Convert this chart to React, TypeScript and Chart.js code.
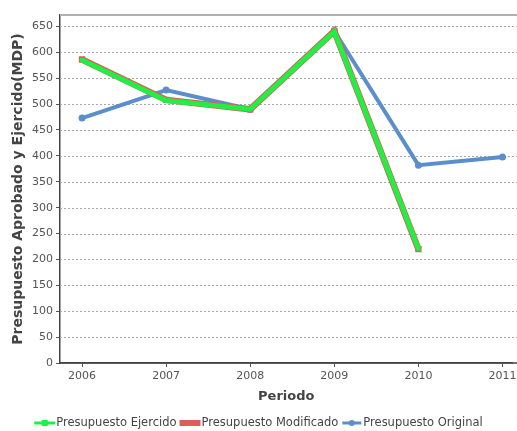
import React, { useEffect, useRef } from "react";
import { Chart, registerables } from "chart.js";
Chart.register(...registerables);

const years = [2006, 2007, 2008, 2009, 2010, 2011];
const ejercido = [585, 507, 490, 640, 221];
const modificado = [586, 508, 490, 641, 220];
const original = [473, 527, 490, 641, 382, 398];
const yTicks = [0, 50, 100, 150, 200, 250, 300, 350, 400, 450, 500, 550, 600, 650];

const Y_MAX = 672;
const X_MIN = 2005.738;
const X_MAX = 2011.119;
const FONT = "'DejaVu Sans', sans-serif";
const GREEN = "#22ee44";
const RED = "#d9605a";
const BLUE = "#5b8fcc";

const pts = (vals: number[]) => vals.map((v, i) => ({ x: years[i], y: v }));

const gridPlugin = {
  id: "gridExt",
  beforeDatasetsDraw(chart: any) {
    const { ctx, chartArea, width } = chart;
    const ys = chart.scales.y;
    ctx.save();
    ctx.strokeStyle = "#a8a8a8";
    ctx.lineWidth = 1;
    ctx.setLineDash([2, 2]);
    yTicks.forEach((v) => {
      if (v === 0) return;
      const py = Math.round(ys.getPixelForValue(v)) + 0.5;
      ctx.beginPath();
      ctx.moveTo(chartArea.left, py);
      ctx.lineTo(width, py);
      ctx.stroke();
    });
    ctx.setLineDash([]);
    // top frame
    ctx.strokeStyle = "#b0b0b0";
    ctx.lineWidth = 2;
    ctx.beginPath();
    ctx.moveTo(chartArea.left, chartArea.top);
    ctx.lineTo(width, chartArea.top);
    ctx.stroke();
    // x axis line extension
    ctx.strokeStyle = "#444";
    ctx.lineWidth = 1.5;
    ctx.beginPath();
    ctx.moveTo(chartArea.left, chartArea.bottom);
    ctx.lineTo(width, chartArea.bottom);
    ctx.stroke();
    ctx.restore();
  },
  afterDraw(chart: any) {
    const { ctx } = chart;
    ctx.save();
    const items = chart.data.datasets.map((d: any, i: number) => ({ label: d.label, i }));
    ctx.font = `11.5px ${FONT}`;
    ctx.textBaseline = "middle";
    const iconW = 21;
    const gap = 3;
    const widths = items.map((it: any) => iconW + 1 + ctx.measureText(it.label).width);
    const total = widths.reduce((a: number, b: number) => a + b, 0) + gap * (items.length - 1);
    let x = (chart.width - total) / 2;
    const y = 423;
    items.forEach((it: any, k: number) => {
      const ds = chart.data.datasets[it.i];
      if (ds.pointStyle === "circle") {
        ctx.strokeStyle = ds.borderColor;
        ctx.lineWidth = 3;
        ctx.beginPath();
        ctx.moveTo(x + 1, y);
        ctx.lineTo(x + iconW - 1, y);
        ctx.stroke();
        ctx.fillStyle = ds.borderColor;
        ctx.beginPath();
        ctx.arc(x + iconW / 2, y, 3, 0, Math.PI * 2);
        ctx.fill();
      } else if (it.i === 1) {
        ctx.fillStyle = ds.borderColor;
        ctx.fillRect(x, y - 3, iconW, 6);
      } else {
        ctx.strokeStyle = ds.borderColor;
        ctx.lineWidth = 3;
        ctx.beginPath();
        ctx.moveTo(x, y);
        ctx.lineTo(x + iconW, y);
        ctx.stroke();
        ctx.fillStyle = ds.borderColor;
        ctx.fillRect(x + iconW / 2 - 3, y - 3, 6, 6);
      }
      ctx.fillStyle = "#444";
      ctx.textAlign = "left";
      ctx.fillText(it.label, x + iconW + 1, y);
      x += widths[k] + gap;
    });
    ctx.restore();
  },
};

export default function App() {
  const ref = useRef<HTMLCanvasElement>(null);
  useEffect(() => {
    document.body.style.margin = "0";
    const chart = new Chart(ref.current!, {
      type: "line",
      data: {
        datasets: [
          {
            label: "Presupuesto Ejercido",
            data: pts(ejercido),
            borderColor: GREEN,
            backgroundColor: GREEN,
            borderWidth: 5,
            pointStyle: "rect",
            pointRadius: 3,
            pointBorderWidth: 0,
            order: 1,
          },
          {
            label: "Presupuesto Modificado",
            data: pts(modificado),
            borderColor: RED,
            backgroundColor: RED,
            borderWidth: 6.5,
            pointStyle: "rect",
            pointRadius: 4.5,
            pointBorderWidth: 0,
            order: 2,
          },
          {
            label: "Presupuesto Original",
            data: pts(original),
            borderColor: BLUE,
            backgroundColor: BLUE,
            borderWidth: 4,
            pointStyle: "circle",
            pointRadius: 3.5,
            pointBorderWidth: 0,
            order: 3,
          },
        ],
      },
      options: {
        animation: false,
        responsive: false,
        layout: { padding: { top: 15, left: 10, right: 0, bottom: 27 } },
        plugins: {
          legend: { display: false },
          tooltip: { enabled: false },
        },
        scales: {
          x: {
            type: "linear",
            min: X_MIN,
            max: X_MAX,
            afterBuildTicks: (s: any) => {
              s.ticks = years.map((v) => ({ value: v }));
            },
            afterFit: (s: any) => {
              s.height = 41;
              s.paddingLeft = 0;
              s.paddingRight = 0;
            },
            ticks: {
              color: "#555",
              font: { family: FONT, size: 11 },
              callback: (v: any) => String(v),
              padding: 3,
            },
            grid: { drawOnChartArea: false, drawTicks: true, tickLength: 4, color: "#555" },
            border: { color: "#444", width: 1.5 },
            title: {
              display: true,
              text: "Periodo",
              color: "#444",
              font: { family: FONT, size: 13, weight: "bold" },
              padding: { top: 0, bottom: 0 },
            },
          },
          y: {
            min: 0,
            max: Y_MAX,
            afterBuildTicks: (s: any) => {
              s.ticks = yTicks.map((v) => ({ value: v }));
            },
            afterFit: (s: any) => {
              s.width = 50;
            },
            ticks: {
              color: "#555",
              font: { family: FONT, size: 11 },
              padding: 3,
            },
            grid: { drawOnChartArea: false, drawTicks: true, tickLength: 4, color: "#555" },
            border: { color: "#444", width: 1.5 },
            title: {
              display: true,
              text: "Presupuesto Aprobado y Ejercido(MDP)",
              color: "#444",
              font: { family: FONT, size: 14, weight: "bold" },
              padding: { top: 0, bottom: 0 },
            },
          },
        },
      },
      plugins: [gridPlugin],
    });
    return () => chart.destroy();
  }, []);
  return (
    <div style={{ position: "absolute", left: 0, top: 0, width: 517, height: 431 }}>
      <canvas ref={ref} width={517} height={431} style={{ width: 517, height: 431 }} />
    </div>
  );
}
